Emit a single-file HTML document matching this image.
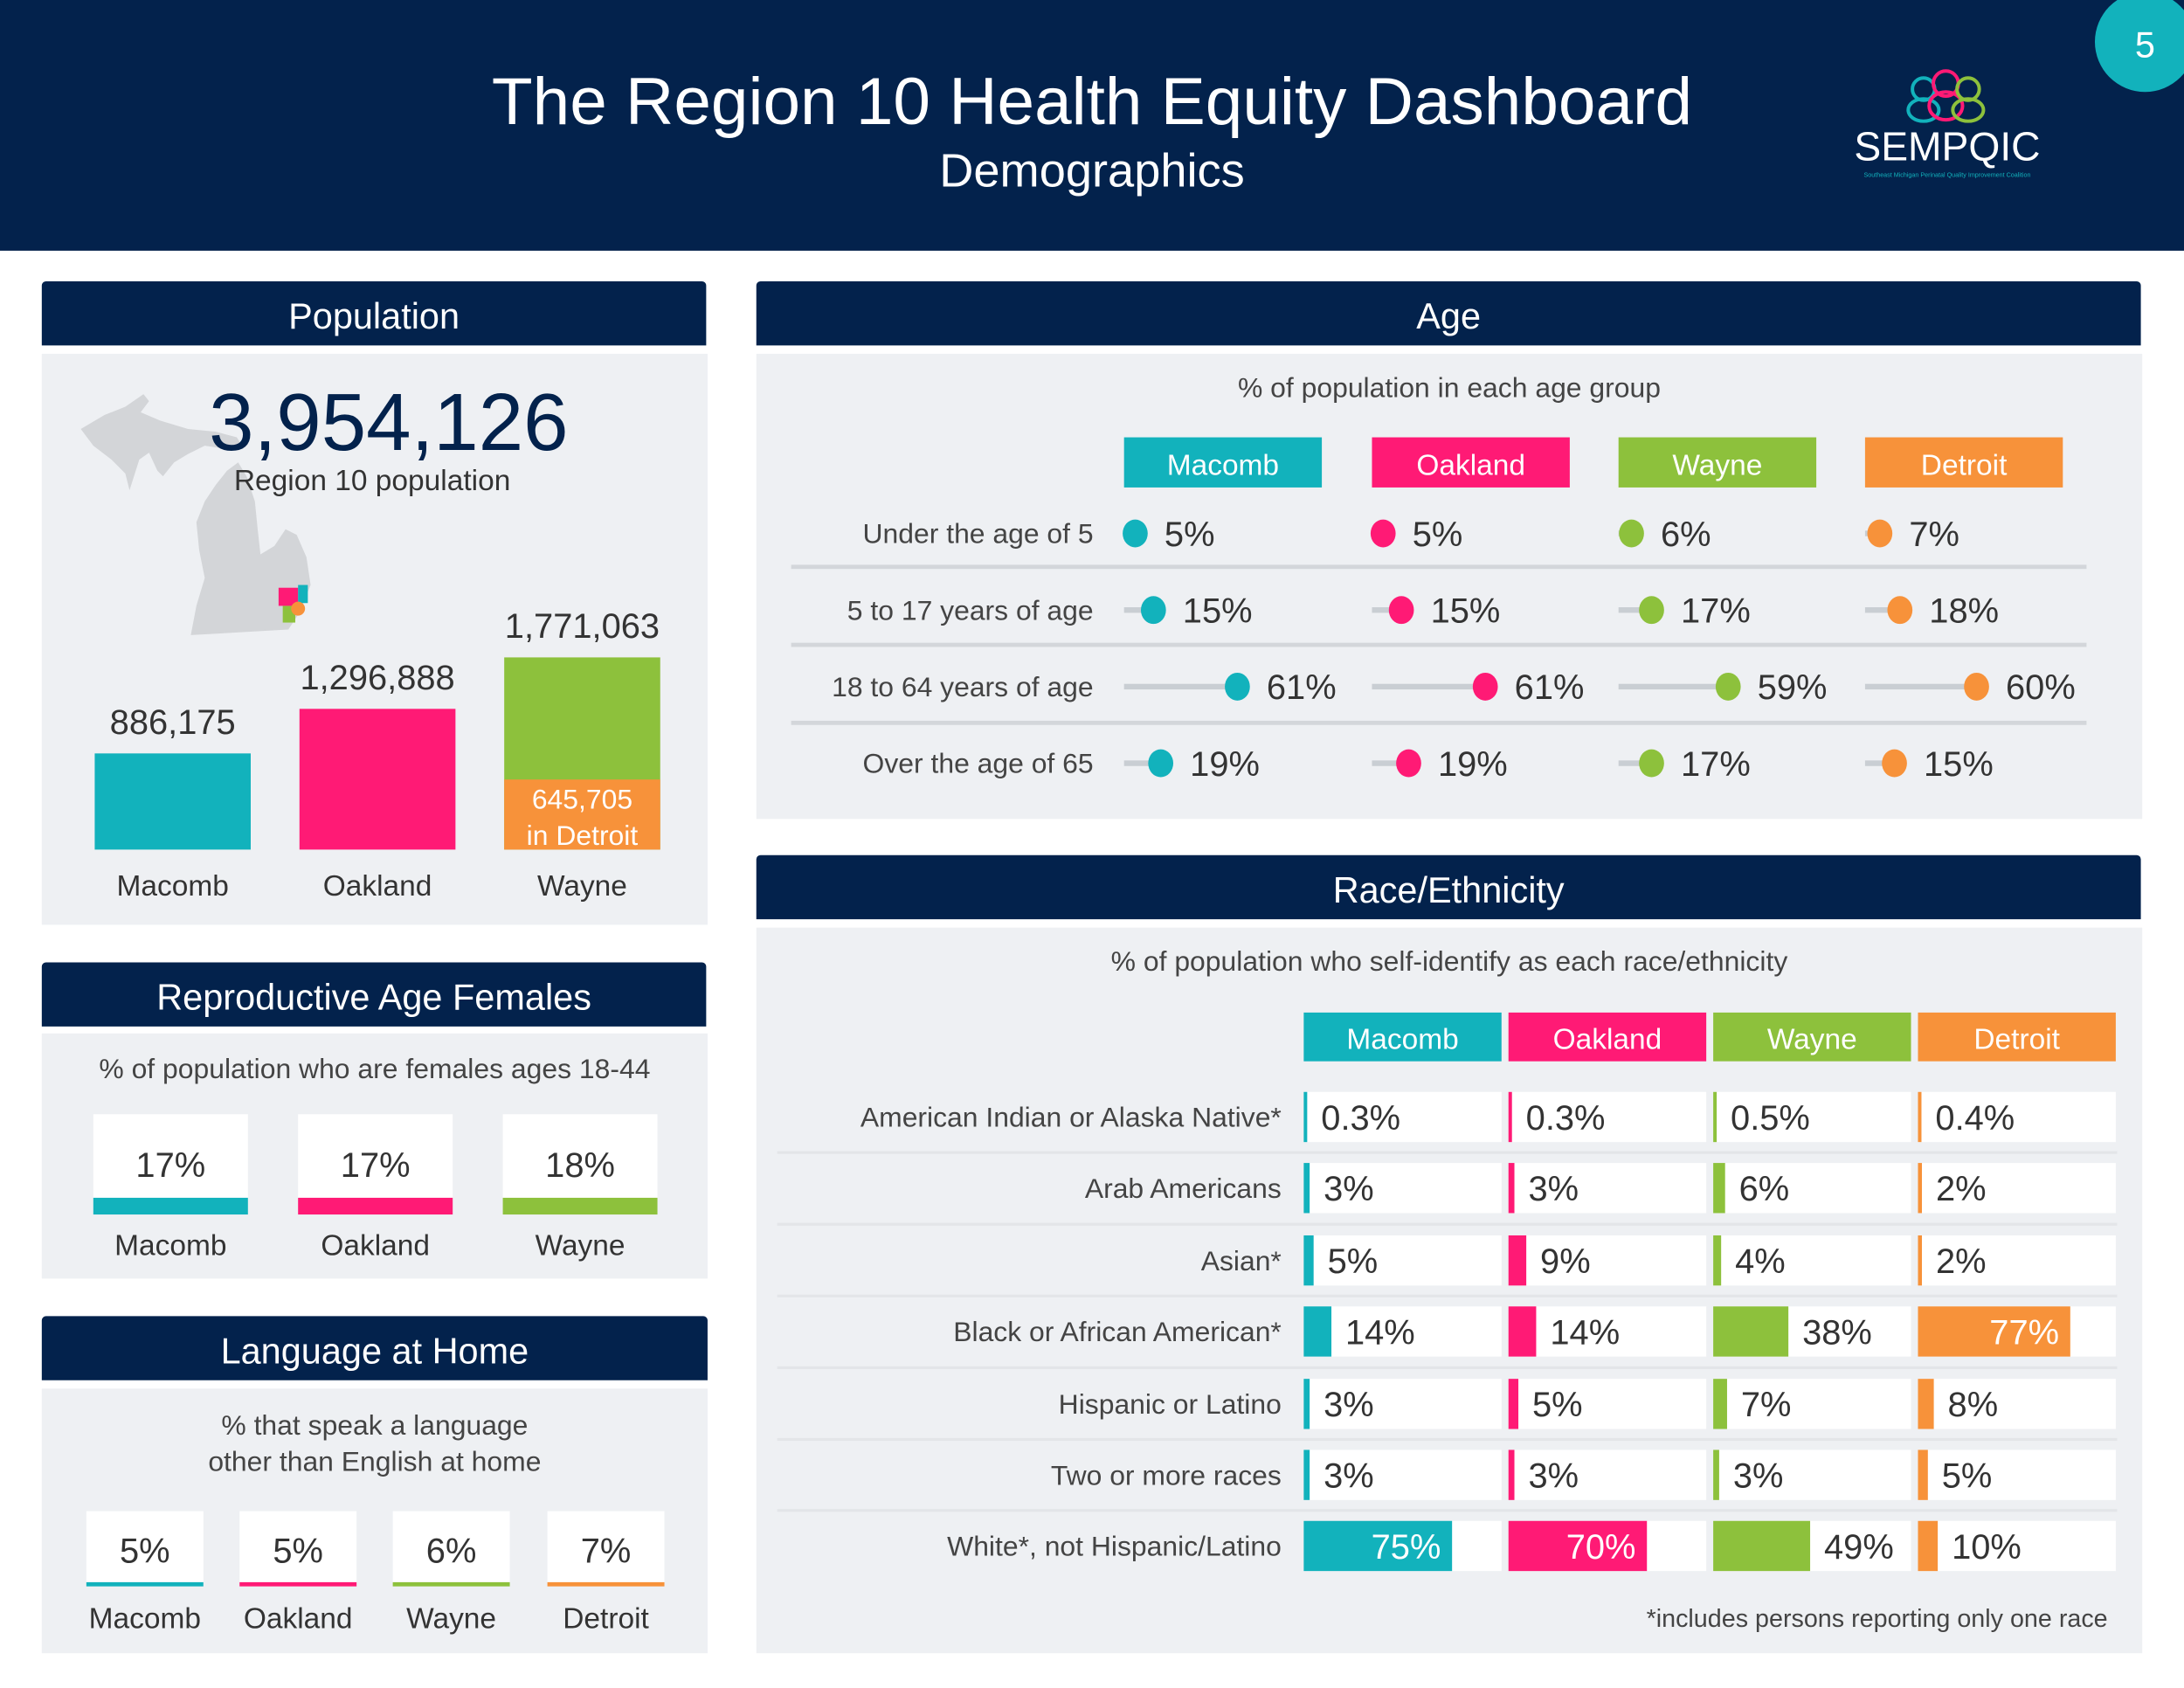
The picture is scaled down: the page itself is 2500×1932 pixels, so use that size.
<!DOCTYPE html>
<html><head><meta charset="utf-8">
<style>
html,body{margin:0;padding:0;background:#fff;width:2500px;height:1932px;overflow:hidden}
#root{position:absolute;left:0;top:0;width:1568px;height:1212px;transform:scale(1.5944,1.5941);transform-origin:0 0;font-family:"Liberation Sans",sans-serif;color:#333}
.abs{position:absolute}
.hdr{position:absolute;background:#03224c;color:#fff;font-size:26px;text-align:center;line-height:50px;height:46px;border-radius:3px 3px 0 0}
.body{position:absolute;background:#eef0f3}
.t{position:absolute;white-space:nowrap}
</style></head><body>
<div id="root">
  <div class="abs" style="left:0;top:0;width:1568px;height:180px;background:#03224c"></div>
  <div class="t" style="left:0;width:1568px;top:46px;text-align:center;font-size:48px;color:#fff">The Region 10 Health Equity Dashboard</div>
  <div class="t" style="left:0;width:1568px;top:104px;text-align:center;font-size:34px;color:#fff">Demographics</div>
  <div class="abs" style="left:1504px;top:-6px;width:72px;height:72px;border-radius:50%;background:#12b2bc;color:#fff;font-size:26px;text-align:center;line-height:76px">5</div>
  <svg class="abs" style="left:1325px;top:48px" width="150" height="85">
    <g fill="none" stroke-width="2.5">
      <circle cx="56" cy="16" r="8" stroke="#12b2bc"/><ellipse cx="56" cy="31" rx="11" ry="8" stroke="#12b2bc"/>
      <circle cx="72" cy="12" r="9" stroke="#ff1a75"/><ellipse cx="72" cy="28" rx="12" ry="10" stroke="#ff1a75"/>
      <circle cx="88" cy="16" r="8" stroke="#8dc13c"/><ellipse cx="88" cy="31" rx="11" ry="8" stroke="#8dc13c"/>
    </g>
    <text x="73" y="67" fill="#fff" font-size="29" text-anchor="middle" font-family="Liberation Sans">SEMPQIC</text>
    <text x="73" y="79" fill="#12b2bc" font-size="4.5" text-anchor="middle" font-family="Liberation Sans">Southeast Michigan Perinatal Quality Improvement Coalition</text>
  </svg>

  <!-- Population -->
  <div class="hdr" style="left:30px;top:202px;width:477px">Population</div>
  <div class="body" style="left:30px;top:254px;width:478px;height:410px"></div>
  <svg class="abs" style="left:55px;top:280px" width="180" height="180">
    <path d="M3,28 L20,18 L35,12 L48,3 L52,8 L46,16 L60,22 L80,28 L100,30 L115,34 L120,42 L105,42 L92,40 L80,46 L70,52 L62,62 L58,58 L52,45 L45,50 L38,72 L35,60 L25,50 L12,40 Z" fill="#d3d5d8"/>
    <path d="M108,58 L116,52 L122,62 L128,80 L130,100 L132,118 L142,112 L150,100 L158,104 L165,120 L168,140 L164,150 L160,160 L152,172 L82,176 L86,155 L92,135 L88,115 L86,95 L92,80 L100,68 Z" fill="#d3d5d8"/>
    <rect x="145" y="142" width="14" height="13" fill="#ff1a75"/>
    <rect x="159" y="140" width="7" height="13" fill="#12b2bc"/>
    <rect x="148" y="155" width="9" height="12" fill="#8dc13c"/>
    <circle cx="159" cy="157" r="5" fill="#f7923a"/>
  </svg>
  <div class="t" style="left:150px;top:270px;font-size:58px;color:#03224c">3,954,126</div>
  <div class="t" style="left:168px;top:334px;font-size:21px;color:#333">Region 10 population</div>
  <svg class="abs" id="popchart" style="left:0;top:0" width="520" height="670"></svg>

  <!-- Repro -->
  <div class="hdr" style="left:30px;top:691px;width:477px">Reproductive Age Females</div>
  <div class="body" style="left:30px;top:742px;width:478px;height:176px"></div>
  <div class="t" style="left:30px;width:478px;text-align:center;top:757px;font-size:20px;color:#444">% of population who are females ages 18-44</div>
  <svg class="abs" id="reprochart" style="left:0;top:0" width="520" height="930"></svg>

  <!-- Language -->
  <div class="hdr" style="left:30px;top:945px;width:478px">Language at Home</div>
  <div class="body" style="left:30px;top:997px;width:478px;height:190px"></div>
  <div class="t" style="left:30px;width:478px;text-align:center;top:1011px;font-size:20px;color:#444;line-height:26px;white-space:normal">% that speak a language<br>other than English at home</div>
  <svg class="abs" id="langchart" style="left:0;top:0" width="520" height="1200"></svg>

  <!-- Age -->
  <div class="hdr" style="left:543px;top:202px;width:994px">Age</div>
  <div class="body" style="left:543px;top:254px;width:995px;height:334px"></div>
  <div class="t" style="left:543px;width:995px;text-align:center;top:268px;font-size:20px;color:#444">% of population in each age group</div>
  <svg class="abs" id="agechart" style="left:0;top:0" width="1568" height="600"></svg>

  <!-- Race -->
  <div class="hdr" style="left:543px;top:614px;width:994px">Race/Ethnicity</div>
  <div class="body" style="left:543px;top:666px;width:995px;height:521px"></div>
  <div class="t" style="left:543px;width:995px;text-align:center;top:680px;font-size:20px;color:#444">% of population who self-identify as each race/ethnicity</div>
  <svg class="abs" id="racechart" style="left:0;top:0" width="1568" height="1200"></svg>
  <div class="t" style="left:1182px;top:1152px;font-size:18px;color:#444">*includes persons reporting only one race</div>
</div>
<script>
const counties=["Macomb","Oakland","Wayne"];
const popValues=[886175,1296888,1771063];
const popLabels=["886,175","1,296,888","1,771,063"];
const detroitPop=[645705];
const detroitLabel=["645,705","in Detroit"];
const reproValues=[17,17,18];
const langCounties=["Macomb","Oakland","Wayne","Detroit"];
const langValues=[5,5,6,7];
const ageGroups=["Under the age of 5","5 to 17 years of age","18 to 64 years of age","Over the age of 65"];
const ageMacomb=[5,15,61,19];
const ageOakland=[5,15,61,19];
const ageWayne=[6,17,59,17];
const ageDetroit=[7,18,60,15];
const raceGroups=["American Indian or Alaska Native*","Arab Americans","Asian*","Black or African American*","Hispanic or Latino","Two or more races","White*, not Hispanic/Latino"];
const raceMacomb=[0.3,3,5,14,3,3,75];
const raceOakland=[0.3,3,9,14,5,3,70];
const raceWayne=[0.5,6,4,38,7,3,49];
const raceDetroit=[0.4,2,2,77,8,5,10];
const colors=["#12b2bc","#ff1a75","#8dc13c","#f7923a"];
const NS="http://www.w3.org/2000/svg";
function mk(svg,tag,attrs,text){const e=document.createElementNS(NS,tag);for(const k in attrs)e.setAttribute(k,attrs[k]);if(text!==undefined)e.textContent=text;svg.appendChild(e);return e;}
const FF="Liberation Sans, sans-serif";

// population
(function(){
  const svg=document.getElementById('popchart');
  const base=610, maxH=138, maxV=Math.max(...popValues);
  const y=v=>base-v/maxV*maxH;
  const xs=[68,215,362], w=112;
  popValues.forEach((v,i)=>{
    const r=mk(svg,'rect',{x:xs[i],y:y(v),width:w,height:base-y(v),fill:colors[i]});
    
    
    const t=mk(svg,'text',{x:xs[i]+w/2,y:y(v)-14,'text-anchor':'middle','font-size':25,fill:'#333','font-family':FF},popLabels[i]);
    
    
    const l=mk(svg,'text',{x:xs[i]+w/2,y:643,'text-anchor':'middle','font-size':21,fill:'#333','font-family':FF},counties[i]);
    
    
  });
  const d=mk(svg,'rect',{x:xs[2],y:y(detroitPop[0]),width:w,height:base-y(detroitPop[0]),fill:colors[3]});
  
  
  const yt=y(detroitPop[0]);
  const t1=mk(svg,'text',{x:xs[2]+w/2,y:yt+21,'text-anchor':'middle','font-size':20,fill:'#fff','font-family':FF},detroitLabel[0]);
  
  
  const t2=mk(svg,'text',{x:xs[2]+w/2,y:yt+47,'text-anchor':'middle','font-size':20,fill:'#fff','font-family':FF},detroitLabel[1]);
  
  
})();

// repro
(function(){
  const svg=document.getElementById('reprochart');
  const xs=[67,214,361],w=111;
  reproValues.forEach((v,i)=>{
    const b=mk(svg,'rect',{x:xs[i],y:800,width:w,height:60,fill:'#fff'});
    
    
    const c=mk(svg,'rect',{x:xs[i],y:860,width:w,height:12,fill:colors[i]});
    
    
    const t=mk(svg,'text',{x:xs[i]+w/2,y:845,'text-anchor':'middle','font-size':25,fill:'#333','font-family':FF},v+'%');
    
    
    const l=mk(svg,'text',{x:xs[i]+w/2,y:901,'text-anchor':'middle','font-size':21,fill:'#333','font-family':FF},counties[i]);
    
    
  });
})();

// language
(function(){
  const svg=document.getElementById('langchart');
  const xs=[62,172,282,393],w=84;
  langValues.forEach((v,i)=>{
    const b=mk(svg,'rect',{x:xs[i],y:1085,width:w,height:51,fill:'#fff'});
    
    
    const c=mk(svg,'rect',{x:xs[i],y:1136,width:w,height:3,fill:colors[i]});
    
    
    const t=mk(svg,'text',{x:xs[i]+w/2,y:1122,'text-anchor':'middle','font-size':25,fill:'#333','font-family':FF},v+'%');
    
    
    const l=mk(svg,'text',{x:xs[i]+w/2,y:1169,'text-anchor':'middle','font-size':21,fill:'#333','font-family':FF},langCounties[i]);
    
    
  });
})();

// age
(function(){
  const svg=document.getElementById('agechart');
  const cols=[807,985,1162,1339],cw=142;
  const series=[ageMacomb,ageOakland,ageWayne,ageDetroit];
  const rowY=[383,438,493,548];
  const xd=(left,v)=>left+8+(v-5)*1.31;
  langCounties.forEach((n,i)=>{
    const h=mk(svg,'rect',{x:cols[i],y:314,width:cw,height:36,fill:colors[i]});
    
    
    const t=mk(svg,'text',{x:cols[i]+cw/2,y:341,'text-anchor':'middle','font-size':21,fill:'#fff','font-family':FF},n);
    
    
  });
  [407,463,519].forEach(y=>{
    const s=mk(svg,'rect',{x:568,y:y-1.5,width:930,height:3,fill:'#d3d6da'});
    
    
  });
  ageGroups.forEach((g,r)=>{
    const l=mk(svg,'text',{x:785,y:rowY[r]+7,'text-anchor':'end','font-size':20,fill:'#444','font-family':FF},g);
    
    
    series.forEach((s,i)=>{
      const cx=xd(cols[i],s[r]);
      const ln=mk(svg,'rect',{x:cols[i],y:rowY[r]-2,width:Math.max(0,cx-cols[i]),height:4,fill:'#c9ced3'});
      
      
      const d=mk(svg,'ellipse',{cx:cx,cy:rowY[r],rx:9,ry:10,fill:colors[i]});
      
      
      const t=mk(svg,'text',{x:cx+21,y:rowY[r]+9,'font-size':25,fill:'#333','font-family':FF},s[r]+'%');
      
      
    });
  });
})();

// race
(function(){
  const svg=document.getElementById('racechart');
  const cols=[936,1083,1230,1377],cw=142;
  const series=[raceMacomb,raceOakland,raceWayne,raceDetroit];
  const rowY=[802,853,905,956,1008,1059,1110];
  const bw=v=>Math.max(2.5,v/100*cw);
  langCounties.forEach((n,i)=>{
    const h=mk(svg,'rect',{x:cols[i],y:727,width:cw,height:35,fill:colors[i]});
    
    
    const t=mk(svg,'text',{x:cols[i]+cw/2,y:753,'text-anchor':'middle','font-size':21,fill:'#fff','font-family':FF},n);
    
    
  });
  raceGroups.forEach((g,r)=>{
    if(r>0){const s=mk(svg,'rect',{x:558,y:(rowY[r]+rowY[r-1])/2-1,width:962,height:2,fill:'#e3e5e8'});
      
      }
    const l=mk(svg,'text',{x:920,y:rowY[r]+7,'text-anchor':'end','font-size':20,fill:'#444','font-family':FF},g);
    
    
    series.forEach((s,i)=>{
      const v=s[r];
      const c=mk(svg,'rect',{x:cols[i],y:rowY[r]-18,width:cw,height:36,fill:'#fff'});
      
      
      const w=bw(v);
      const b=mk(svg,'rect',{x:cols[i],y:rowY[r]-18,width:w,height:36,fill:colors[i]});
      
      
      const inside=v>=60;
      const t=mk(svg,'text',{x:inside?cols[i]+w-8:cols[i]+w+10,y:rowY[r]+9,'text-anchor':inside?'end':'start','font-size':25,fill:inside?'#fff':'#333','font-family':FF},v+'%');
      
      
    });
  });
})();
</script>
</body></html>
